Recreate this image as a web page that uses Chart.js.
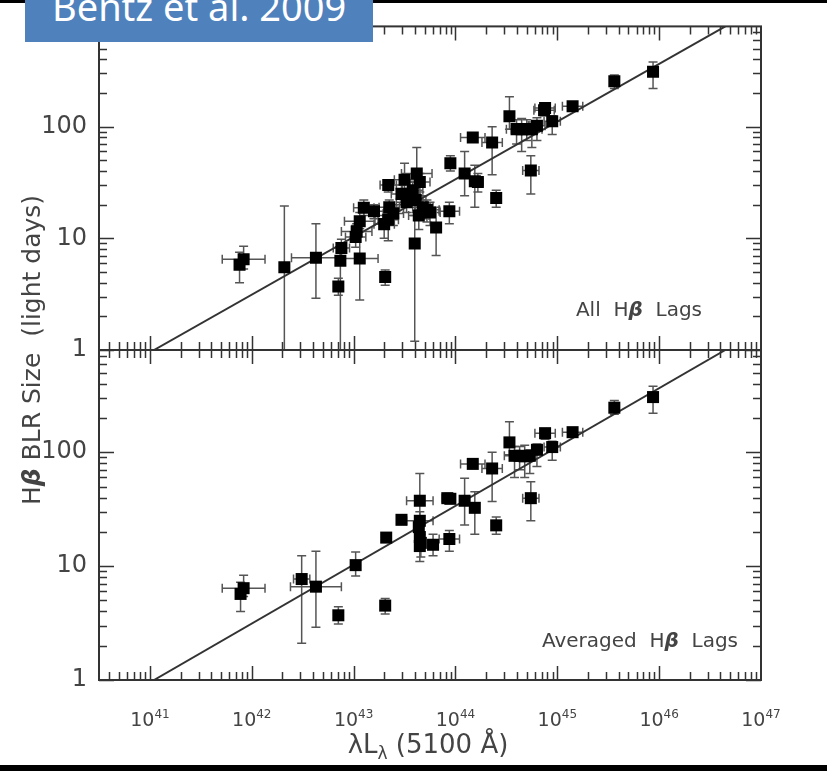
<!DOCTYPE html>
<html>
<head>
<meta charset="utf-8">
<script src="https://cdn.jsdelivr.net/npm/chart.js"></script>
<style>
  body { margin: 0; background: #fff; }
  #wrap { position: relative; width: 827px; height: 771px; overflow: hidden; background: #fff; }
  canvas { position: absolute; left: 0; top: 0; }
  #topBar { position: absolute; left: 0; top: 0; width: 827px; height: 3px; background: #000; }
  #bottomBar { position: absolute; left: 0; top: 765px; width: 827px; height: 6px; background: #000; }
  #banner { position: absolute; left: 25px; top: 0; width: 348px; height: 42px; background: #4f81bd; overflow: hidden; }
  #banner span { position: absolute; left: 27px; top: -13px; font: 38px/38px "Noto Sans", sans-serif; color: #fff; white-space: nowrap; }
</style>
</head>
<body>
<div id="wrap">
  <canvas id="topPanel" width="827" height="380"></canvas>
  <canvas id="bottomPanel" width="827" height="771"></canvas>
  <div id="topBar"></div>
  <div id="bottomBar"></div>
  <div id="banner"><span>Bentz et al. 2009</span></div>
</div>
<script>
// ---- data: log10 of lambda L_lambda (5100 A), lag in light days, lag error range, luminosity error (dex)
const allLogL = [41.88, 41.92, 42.32, 42.63, 42.85, 42.87, 42.88, 43.06, 43.02, 43.03, 43.06, 43.10, 43.20, 43.30,
  43.34, 43.35, 43.39, 43.34, 43.31, 43.50, 43.47, 43.52, 43.55, 43.62, 43.65, 43.58, 43.61, 43.68, 43.72, 43.75,
  43.64, 43.60, 43.81, 43.95, 43.94, 44.09, 44.17, 44.19, 44.22, 44.36, 44.40, 44.53, 44.60, 44.65, 44.70, 44.75,
  44.74, 44.80, 44.88, 44.87, 44.95, 45.15, 45.56, 45.94];
const allLag = [5.8, 6.5, 5.5, 6.7, 3.7, 6.3, 8.2, 6.6, 10.3, 11.5, 14.2, 18.8, 17.5, 13.4,
  14.7, 19, 16.7, 30, 4.5, 33.5, 25, 21, 24, 38, 32, 27, 22, 19, 18, 17,
  16, 9.0, 12.5, 47, 17.5, 38, 80, 32.5, 32, 72, 23, 124, 95, 95, 95, 95,
  40.5, 102, 147, 140, 112, 152, 255, 310];
const allLagLo = [4.0, 5.3, 1.0, 2.9, 3.1, 1.0, 6.8, 2.8, 8.3, 9.5, 11.5, 16, 15, 10,
  9.5, 16, 13, 26, 3.8, 27, 20, 17, 20, 25, 26, 22, 17, 15, 14, 13,
  12, 1.2, 7, 40, 13.5, 24, 74, 19, 26, 37, 19, 95, 70, 60, 75, 65,
  25, 75, 130, 125, 85, 140, 220, 220];
const allLagHi = [7.5, 8.5, 19.5, 13.5, 4.4, 7.5, 9.8, 12.2, 13.0, 13.5, 17, 22, 20, 16,
  17, 22, 20, 33, 5.2, 47, 30, 26, 28, 65, 38, 32, 28, 24, 22, 21,
  20, 16, 19, 55, 21, 60, 86, 45, 38, 100, 27, 185, 115, 118, 115, 110,
  55, 120, 160, 155, 125, 165, 290, 380];
const allLumErr = [0, 0.21, 0, 0.24, 0, 0, 0.08, 0.18, 0.1, 0.15, 0.15, 0.1, 0.1, 0.1,
  0.1, 0.1, 0.1, 0.08, 0, 0.1, 0.1, 0.1, 0.1, 0.15, 0.1, 0.1, 0.1, 0.1, 0.12, 0.1,
  0.1, 0, 0, 0, 0.1, 0, 0.12, 0.05, 0.05, 0.1, 0, 0, 0.1, 0.1, 0.1, 0.1,
  0.08, 0.08, 0.1, 0.1, 0.08, 0.1, 0, 0];

const avgLogL = [41.89, 41.92, 42.49, 42.63, 42.85, 43.02, 43.31, 43.32, 43.47, 43.65, 43.65, 43.64, 43.65, 43.66,
  43.65, 43.78, 43.92, 43.95, 43.94, 44.09, 44.17, 44.19, 44.36, 44.40, 44.53, 44.58, 44.63, 44.68, 44.73,
  44.74, 44.80, 44.88, 44.95, 45.15, 45.56, 45.94];
const avgLag = [5.7, 6.4, 7.7, 6.6, 3.7, 10.2, 4.5, 17.8, 25.5, 37.5, 25, 22, 18, 16,
  15, 15.4, 39.5, 39, 17.3, 37.5, 79, 32.5, 72, 22.8, 122, 93, 93, 92, 93,
  39.5, 105, 147, 111, 150, 246, 305];
const avgLagLo = [4.0, 5.4, 2.1, 2.9, 3.1, 8.2, 3.8, 16.5, 24, 26, 18, 17, 14, 12,
  11, 12.3, 36, 36, 13.5, 23, 75, 19, 37, 19, 95, 60, 70, 60, 65,
  25, 75, 130, 85, 138, 215, 220];
const avgLagHi = [7.2, 8.3, 12.3, 13.5, 4.4, 13.3, 5.2, 19, 27, 65, 30, 26, 22, 19,
  18, 19, 43, 42, 20.5, 59, 84, 45, 100, 27, 185, 112, 112, 115, 105,
  55, 118, 160, 125, 163, 285, 380];
const avgLumErr = [0, 0.21, 0.08, 0.25, 0, 0, 0, 0, 0, 0.13, 0.13, 0, 0, 0,
  0, 0.05, 0.05, 0, 0.1, 0, 0.12, 0, 0.1, 0, 0, 0.1, 0, 0, 0,
  0.08, 0.05, 0.1, 0.08, 0.1, 0, 0];

// best fit R-L relation (endpoints)
const fitLogL = [41.04, 46.65];
const fitLag = [1, 790];

// axes
const xLogMin = 40.5, xLogMax = 47;
const yMin = 1, yMax = 790;
const xTickExps = [41, 42, 43, 44, 45, 46, 47];
const yTickLabels = [1, 10, 100];

const INK = "#444";
const FONT = '"DejaVu Sans", sans-serif';

function richText(ctx, parts, x, y, align) {
  let total = 0;
  parts.forEach(p => { ctx.font = p.font; p.w = ctx.measureText(p.text).width; total += p.w; });
  let cx = align === "right" ? x - total : align === "center" ? x - total / 2 : x;
  parts.forEach(p => {
    ctx.font = p.font;
    ctx.fillText(p.text, cx, y + (p.dy || 0));
    cx += p.w;
  });
}

// error bars under the markers
const errorBars = {
  id: "errorBars",
  beforeDatasetsDraw(chart, args, opts) {
    const { ctx, chartArea: a } = chart;
    const xs = chart.scales.x, ys = chart.scales.y;
    const cap = 4.5;
    ctx.save();
    ctx.beginPath();
    ctx.rect(a.left, a.top, a.right - a.left, a.bottom - a.top);
    ctx.clip();
    ctx.strokeStyle = "#555";
    ctx.lineWidth = 1.5;
    opts.logL.forEach((l, i) => {
      const px = xs.getPixelForValue(10 ** l);
      const py = ys.getPixelForValue(opts.lag[i]);
      const y1 = ys.getPixelForValue(opts.lo[i]);
      const y2 = ys.getPixelForValue(opts.hi[i]);
      ctx.beginPath();
      ctx.moveTo(px, y1); ctx.lineTo(px, y2);
      ctx.moveTo(px - cap, y1); ctx.lineTo(px + cap, y1);
      ctx.moveTo(px - cap, y2); ctx.lineTo(px + cap, y2);
      const e = opts.lumErr[i];
      if (e > 0) {
        const x1 = xs.getPixelForValue(10 ** (l - e));
        const x2 = xs.getPixelForValue(10 ** (l + e));
        ctx.moveTo(x1, py); ctx.lineTo(x2, py);
        ctx.moveTo(x1, py - cap); ctx.lineTo(x1, py + cap);
        ctx.moveTo(x2, py - cap); ctx.lineTo(x2, py + cap);
      }
      ctx.stroke();
    });
    ctx.restore();
  }
};

// box frame with inward major/minor ticks, panel label, titles
const frame = {
  id: "frame",
  afterDraw(chart, args, opts) {
    const { ctx, chartArea: a } = chart;
    const xs = chart.scales.x, ys = chart.scales.y;
    ctx.save();
    ctx.strokeStyle = "#333";
    ctx.lineWidth = 1.5;
    ctx.beginPath();
    for (let n = 40; n <= 46; n++) {
      for (let k = 1; k <= 9; k++) {
        const v = k * 10 ** n;
        if (v < 10 ** xLogMin || v > 10 ** xLogMax) continue;
        const px = Math.round(xs.getPixelForValue(v)) + 0.5;
        const len = k === 1 ? 14 : 8;
        ctx.moveTo(px, a.bottom); ctx.lineTo(px, a.bottom - len);
        ctx.moveTo(px, a.top); ctx.lineTo(px, a.top + len);
      }
    }
    for (let n = 0; n <= 2; n++) {
      for (let k = 1; k <= 9; k++) {
        const v = k * 10 ** n;
        if (v > yMax) continue;
        const py = Math.round(ys.getPixelForValue(v)) + 0.5;
        const len = k === 1 ? 15 : 8;
        ctx.moveTo(a.left, py); ctx.lineTo(a.left + len, py);
        ctx.moveTo(a.right, py); ctx.lineTo(a.right - len, py);
      }
    }
    ctx.stroke();
    ctx.lineWidth = 2;
    ctx.strokeRect(a.left, a.top, a.right - a.left, a.bottom - a.top);

    ctx.fillStyle = INK;
    ctx.textBaseline = "alphabetic";
    richText(ctx, [
      { text: opts.label, font: "20px " + FONT },
      { text: "  H", font: "20px " + FONT },
      { text: "\u03B2", font: "italic bold 20px " + FONT },
      { text: "  Lags", font: "20px " + FONT }
    ], opts.labelX, opts.labelY, "right");

    if (opts.axisTitles) {
      // x tick labels
      xTickExps.forEach(e => {
        const px = xs.getPixelForValue(10 ** e);
        richText(ctx, [
          { text: "10", font: "19px " + FONT },
          { text: String(e), font: "12px " + FONT, dy: -8 }
        ], px, 726, "center");
      });
      // x title
      richText(ctx, [
        { text: "\u03BBL", font: "26px " + FONT },
        { text: "\u03BB", font: "17px " + FONT, dy: 6 },
        { text: " (5100 \u00C5)", font: "26px " + FONT }
      ], 428, 753, "center");
      // y title
      ctx.translate(40, 350);
      ctx.rotate(-Math.PI / 2);
      richText(ctx, [
        { text: "H", font: "25px " + FONT },
        { text: "\u03B2", font: "italic bold 25px " + FONT },
        { text: " BLR Size  (light days)", font: "25px " + FONT }
      ], 0, 0, "center");
    }
    ctx.restore();
  }
};

function makePanel(id, logL, lag, lo, hi, lumErr, label, labelX, labelY, isBottom) {
  const points = logL.map((l, i) => ({ x: 10 ** l, y: lag[i] }));
  const fit = fitLogL.map((l, i) => ({ x: 10 ** l, y: fitLag[i] }));
  return new Chart(document.getElementById(id), {
    type: "scatter",
    data: {
      datasets: [{
        data: points,
        pointStyle: "rect",
        pointRadius: 8.5,
        backgroundColor: "#000",
        borderWidth: 0
      }, {
        type: "line",
        data: fit,
        borderColor: "#333",
        borderWidth: 2,
        pointRadius: 0,
        fill: false
      }]
    },
    options: {
      responsive: false,
      animation: false,
      events: [],
      layout: { padding: isBottom ? { top: 350, right: 66, left: 0, bottom: 0 } : { top: 20, right: 66, left: 0, bottom: 30 } },
      scales: {
        x: {
          type: "logarithmic",
          min: 10 ** xLogMin,
          max: 10 ** xLogMax,
          display: isBottom,
          grid: { display: false, drawTicks: false },
          border: { display: false },
          ticks: { display: false },
          afterFit: s => { s.height = isBottom ? 91 : 0; }
        },
        y: {
          type: "logarithmic",
          min: yMin,
          max: yMax,
          grid: { display: false, drawTicks: false },
          border: { display: false },
          ticks: {
            autoSkip: false,
            padding: 12,
            color: INK,
            font: { family: "DejaVu Sans", size: 24 },
            callback: v => yTickLabels.includes(Math.round(v * 1000) / 1000) ? String(Math.round(v)) : ""
          },
          afterFit: s => { s.width = 99; }
        }
      },
      plugins: {
        legend: { display: false },
        tooltip: { enabled: false },
        errorBars: { logL, lag, lo, hi, lumErr },
        frame: { label, labelX, labelY, axisTitles: isBottom }
      }
    },
    plugins: [errorBars, frame]
  });
}

makePanel("topPanel", allLogL, allLag, allLagLo, allLagHi, allLumErr, "All", 702, 316, false);
makePanel("bottomPanel", avgLogL, avgLag, avgLagLo, avgLagHi, avgLumErr, "Averaged", 738, 647, true);
</script>
</body>
</html>
